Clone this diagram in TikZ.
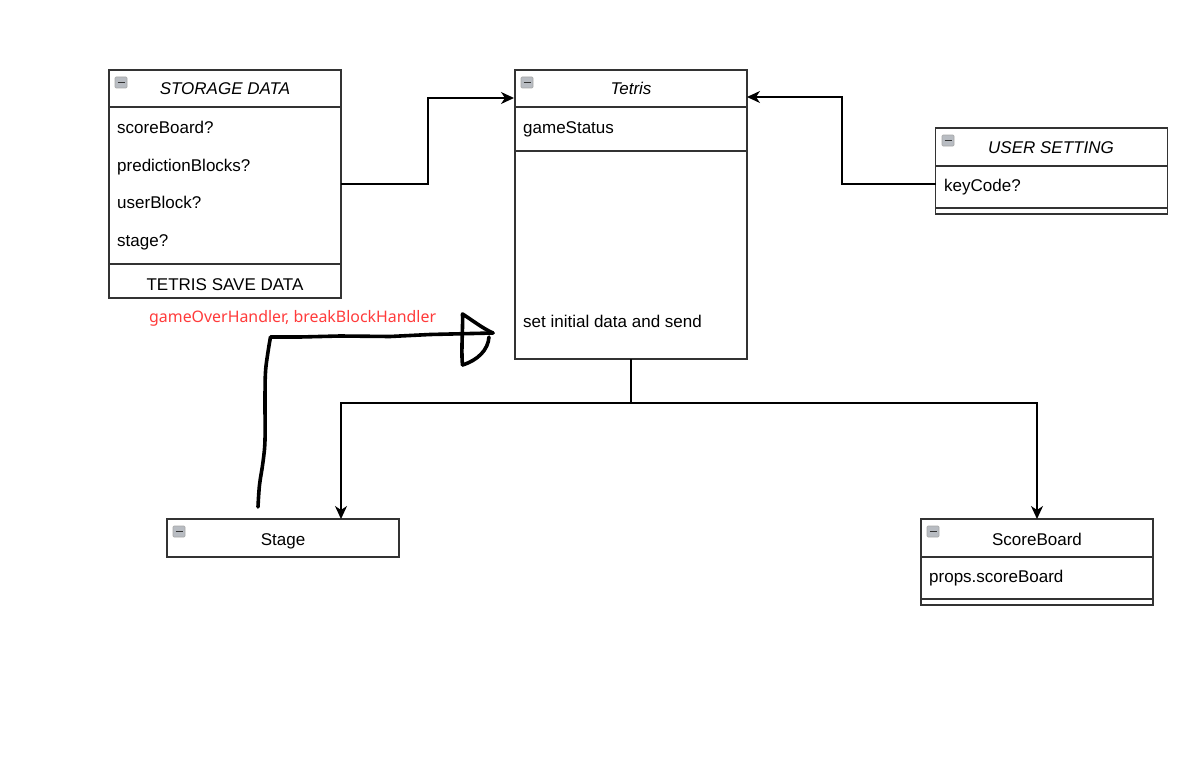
\documentclass[tikz,border=0pt]{standalone}
\usepackage{fontspec}
\setmainfont{Liberation Sans}
\newfontfamily\redfont{Noto Sans}
\usetikzlibrary{arrows.meta}
\definecolor{boxline}{HTML}{333333}
\definecolor{redtxt}{HTML}{FF3B3B}
\definecolor{icongray}{HTML}{B8BCC2}
\newcommand{\fs}{\fontsize{17bp}{20bp}\selectfont}
\newcommand{\minusicon}[2]{%
  \filldraw[draw=gray!70, fill=icongray, line width=0.6bp, rounded corners=1bp] (#1,#2) rectangle ++(12,11);
  \draw[black!80, line width=1.6bp] (#1+2.5,#2+5.5) -- ++(7,0);}
\tikzset{
  box/.style={draw=boxline, line width=1.4bp, minimum width=232bp, inner sep=0, outer sep=0},
  divider/.style={draw=boxline, line width=1.4bp},
  ttl/.style={font=\fs, inner sep=0, anchor=base},
  lbl/.style={font=\fs, inner sep=0, anchor=base west},
  arr/.style={draw=black, line width=1.3bp, -{Stealth[length=13bp,width=12bp,inset=4bp]}},
  hand/.style={draw=black, line width=3.6bp, line cap=round, line join=round},
}
\begin{document}
\begin{tikzpicture}[x=1bp,y=-1bp]
\useasboundingbox (0,0) rectangle (1183,778);

% ---------- STORAGE DATA ----------
\node[box, minimum height=228bp] (storage) at (225,184) {};
\draw[divider] (109,107) -- (341,107);
\draw[divider] (109,264) -- (341,264);
\minusicon{115}{77}
\node[ttl] (storageT) at (225,95) {\itshape STORAGE DATA};
\node[lbl] (s1) at (117,133) {scoreBoard?};
\node[lbl] (s2) at (117,171) {predictionBlocks?};
\node[lbl] (s3) at (117,208) {userBlock?};
\node[lbl] (s4) at (117,246) {stage?};
\node[ttl] (sfoot) at (225,290) {TETRIS SAVE DATA};

% ---------- Tetris ----------
\node[box, minimum height=289bp] (tetris) at (631,214.5) {};
\draw[divider] (515,107) -- (747,107);
\draw[divider] (515,151) -- (747,151);
\minusicon{521}{77}
\node[ttl] (tetrisT) at (631,95) {\itshape Tetris};
\node[lbl] (t1) at (523,133) {gameStatus};
\node[lbl] (t2) at (523,327) {set initial data and send};

% ---------- USER SETTING ----------
\node[box, minimum height=86bp] (user) at (1051.5,171) {};
\draw[divider] (936,166) -- (1167,166);
\draw[divider] (936,208) -- (1167,208);
\minusicon{942}{135}
\node[ttl] (userT) at (1051,153) {\itshape USER SETTING};
\node[lbl] (keyrow) at (944,191) {keyCode?};
\coordinate (userrow) at (936,184);

% ---------- Stage ----------
\node[box, minimum height=38bp] (stage) at (283,538) {};
\minusicon{173}{526}
\node[ttl] (stageT) at (283,545) {Stage};

% ---------- ScoreBoard ----------
\node[box, minimum height=86bp] (score) at (1037,562) {};
\draw[divider] (921,557) -- (1153,557);
\draw[divider] (921,599) -- (1153,599);
\minusicon{927}{526}
\node[ttl] (scoreT) at (1037,545) {ScoreBoard};
\node[lbl] (sc1) at (929,582) {props.scoreBoard};

% ---------- connectors ----------
\coordinate (tetrisInL) at (514,98);
\coordinate (tetrisInR) at (747,97);
\draw[arr] (storage.east) -- (428,184) -- (428,98) -- (tetrisInL);
\draw[arr] (userrow) -- (842,184) -- (842,97) -- (tetrisInR);
\coordinate (split) at (631,403);
\draw[arr] (tetris.south) -- (split) -| ([xshift=58bp]stage.north);
\draw[arr] (split) -| (score.north);

% ---------- hand drawn ----------
\node[font=\redfont\fontsize{15.9bp}{18bp}\selectfont, text=redtxt, inner sep=0, anchor=base west] (handlbl) at (149,322) {gameOverHandler, breakBlockHandler};
\coordinate (hstart) at (258,507);
\coordinate (htip) at (493,333);
\draw[hand] plot[smooth, tension=0.6] coordinates {(hstart) (259.5,485) (263,462) (265,440) (265,400) (265.5,372) (268,352) (270.5,337)}
  -- (300,337) -- (340,336) -- (390,336.5) -- (430,334.5) -- (htip);
\draw[hand] (462.5,365) .. controls (461,350) and (463,330) .. (462.5,314) .. controls (472,320) and (482,328) .. (htip);
\draw[hand] (489,337) .. controls (488,350) and (478,360) .. (462.5,365);
\end{tikzpicture}
\end{document}
